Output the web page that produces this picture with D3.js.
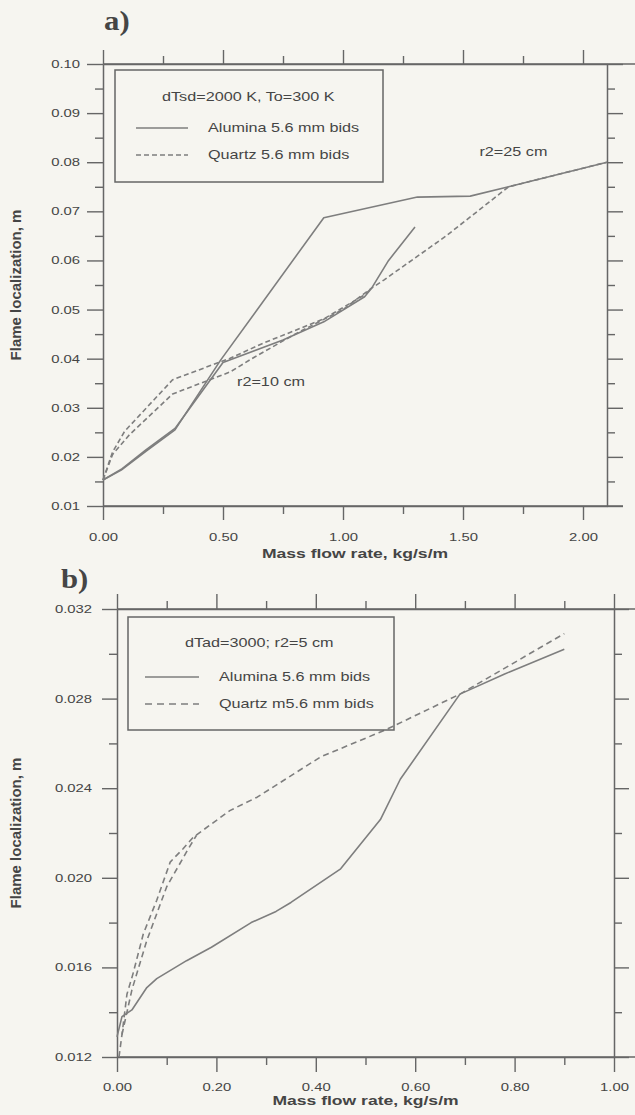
<!DOCTYPE html>
<html><head><meta charset="utf-8">
<script src="https://cdn.jsdelivr.net/npm/d3@7"></script>
<style>
body{margin:0;background:#f6f5f0;}
svg{display:block;}
text{font-family:"Liberation Sans",Arial,sans-serif;fill:#454545;}
</style></head><body>
<svg id="c" width="635" height="1115"></svg>
<script>
// ---------- Chart a data ----------
const aXTicks = [0, 0.5, 1.0, 1.5, 2.0];
const aXMinor = [0.25, 0.75, 1.25, 1.75];
const aYTicks = [0.01, 0.02, 0.03, 0.04, 0.05, 0.06, 0.07, 0.08, 0.09, 0.10];
const aYMinor = [0.015, 0.025, 0.035, 0.045, 0.055, 0.065, 0.075, 0.085, 0.095];
const aAlumina25 = [[0,0.0153],[0.076,0.0173],[0.18,0.0212],[0.30,0.0255],[0.49,0.0397],[0.92,0.0687],[1.31,0.0729],[1.53,0.0731],[1.69,0.0750],[2.10,0.0800]];
const aAlumina10 = [[0,0.0153],[0.08,0.0176],[0.18,0.0215],[0.30,0.0258],[0.50,0.0392],[0.75,0.0438],[0.92,0.0475],[1.09,0.0526],[1.12,0.0544],[1.19,0.0600],[1.30,0.0668]];
const aQuartz10 = [[0,0.0153],[0.04,0.0210],[0.09,0.0252],[0.29,0.0357],[0.53,0.0401],[0.67,0.0432],[0.92,0.0481],[1.09,0.0530],[1.12,0.0544]];
const aQuartz25 = [[0,0.0153],[0.04,0.0205],[0.11,0.0245],[0.29,0.0328],[0.53,0.0373],[0.62,0.0400],[0.80,0.0450],[1.00,0.0500],[1.12,0.0544],[1.17,0.0560],[1.43,0.0650],[1.69,0.0750],[2.10,0.0800]];
const aLegendTitle = "dTsd=2000 K, To=300 K";
const aLegendNames = ["Alumina 5.6 mm bids", "Quartz 5.6 mm bids"];
const aNotes = [{x:1.71, y:0.0821, t:"r2=25 cm"}, {x:0.70, y:0.0353, t:"r2=10 cm"}];

// ---------- Chart b data ----------
const bXTicks = [0, 0.2, 0.4, 0.6, 0.8, 1.0];
const bXMinor = [0.1, 0.3, 0.5, 0.7, 0.9];
const bYTicks = [0.012, 0.016, 0.020, 0.024, 0.028, 0.032];
const bYMinor = [0.014, 0.018, 0.022, 0.026, 0.030];
const bAlumina = [[0,0.0129],[0.01,0.0138],[0.03,0.0141],[0.06,0.0151],[0.08,0.0155],[0.14,0.0163],[0.19,0.0169],[0.27,0.0180],[0.32,0.0185],[0.35,0.0189],[0.45,0.0204],[0.53,0.0226],[0.57,0.0244],[0.69,0.0282],[0.78,0.0291],[0.90,0.0302]];
const bQuartz = [[0.004,0.0120],[0.01,0.0130],[0.02,0.0148],[0.032,0.0157],[0.053,0.0175],[0.08,0.0190],[0.107,0.0207],[0.133,0.0213],[0.153,0.0218],[0.227,0.0230],[0.282,0.0236],[0.41,0.0254],[0.54,0.0266],[0.69,0.0282],[0.90,0.0309]];
const bQuartz2 = [[0.01,0.0130],[0.03,0.0150],[0.06,0.0172],[0.10,0.0196],[0.141,0.0212],[0.16,0.0219]];
const bLegendTitle = "dTad=3000; r2=5 cm";
const bLegendNames = ["Alumina 5.6 mm bids", "Quartz m5.6 mm bids"];

const xTitle = ["Mass flow rate,  kg/s/m", "Mass flow rate, kg/s/m"];
const yTitle = "Flame localization, m";

// ---------- drawing ----------
const SX = 1.35;
const AX = "#666", LN = "#7e7e7e";
const svg = d3.select("#c");

function stxt(g, x, y, s, size, opt = {}) {
  return g.append("text")
    .attr("transform", `translate(${x},${y}) scale(${opt.sx || SX},1)`)
    .attr("text-anchor", opt.anchor || "start")
    .style("font-size", size + "px")
    .style("font-weight", opt.bold ? "bold" : "normal")
    .style("font-family", opt.family || null)
    .text(s);
}
function styleAxis(g) {
  g.selectAll("path.domain").attr("stroke", AX).attr("stroke-width", 1.5);
  g.selectAll(".tick line").attr("stroke", AX).attr("stroke-width", 1.4);
  g.selectAll(".tick text").each(function() {
    const t = d3.select(this);
    const x = +t.attr("x") || 0;
    t.attr("x", x / SX).attr("transform", `scale(${SX},1)`)
     .style("font-size", "11px").attr("fill", "#454545");
  });
}

function chart(cfg) {
  const g = svg.append("g");
  const x = d3.scaleLinear().domain(cfg.xd).range([cfg.L, cfg.R]);
  const y = d3.scaleLinear().domain(cfg.yd).range([cfg.B, cfg.T]);

  // extended frame lines (scan look)
  g.append("line").attr("x1", cfg.L).attr("x2", 635).attr("y1", cfg.T).attr("y2", cfg.T).attr("stroke", AX).attr("stroke-width", 1.5);
  g.append("line").attr("x1", cfg.L).attr("x2", cfg.bExt).attr("y1", cfg.B).attr("y2", cfg.B).attr("stroke", AX).attr("stroke-width", 1.5);

  // major axes
  const left = g.append("g").attr("transform", `translate(${cfg.L},0)`)
    .call(d3.axisLeft(y).tickValues(cfg.yt).tickSize(cfg.ytl).tickSizeOuter(0).tickPadding(cfg.ypad).tickFormat(d3.format(cfg.yf)));
  styleAxis(left);
  const right = g.append("g").attr("transform", `translate(${cfg.R},0)`)
    .call(d3.axisRight(y).tickValues(cfg.yt).tickSize(cfg.ytl).tickSizeOuter(0).tickFormat(""));
  styleAxis(right);
  const bottom = g.append("g").attr("transform", `translate(0,${cfg.B})`)
    .call(d3.axisBottom(x).tickValues(cfg.xt).tickSize(cfg.xtl).tickSizeOuter(0).tickPadding(cfg.xpad).tickFormat(d3.format(".2f")));
  styleAxis(bottom);
  const top = g.append("g").attr("transform", `translate(0,${cfg.T})`)
    .call(d3.axisTop(x).tickValues(cfg.xt).tickSize(cfg.xtl).tickSizeOuter(0).tickFormat(""));
  styleAxis(top);
  // minor ticks
  [[d3.axisLeft(y).tickValues(cfg.ym), `translate(${cfg.L},0)`],
   [d3.axisRight(y).tickValues(cfg.ym), `translate(${cfg.R},0)`],
   [d3.axisBottom(x).tickValues(cfg.xm), `translate(0,${cfg.B})`],
   [d3.axisTop(x).tickValues(cfg.xm), `translate(0,${cfg.T})`]].forEach(([ax, tr]) => {
    const m = g.append("g").attr("transform", tr).call(ax.tickSize(8).tickSizeOuter(0).tickFormat(""));
    m.select("path.domain").remove();
    styleAxis(m);
  });

  // series
  const line = d3.line().x(d => x(d[0])).y(d => y(d[1]));
  cfg.series.forEach(s => {
    g.append("path").datum(s.data).attr("d", line).attr("fill", "none")
      .attr("stroke", LN).attr("stroke-width", 1.6)
      .attr("stroke-dasharray", s.dash || null).attr("stroke-linejoin", "round");
  });

  // legend
  const lg = cfg.legend;
  g.append("rect").attr("x", lg.x).attr("y", lg.y).attr("width", lg.w).attr("height", lg.h)
    .attr("fill", "none").attr("stroke", AX).attr("stroke-width", 1.5);
  stxt(g, lg.tx, lg.ty, lg.title, 12);
  lg.names.forEach((n, i) => {
    const yy = lg.ry[i];
    g.append("line").attr("x1", lg.sx1).attr("x2", lg.sx2).attr("y1", yy).attr("y2", yy)
      .attr("stroke", LN).attr("stroke-width", 1.6).attr("stroke-dasharray", i ? cfg.dash : null);
    stxt(g, lg.nx, yy + 4, n, 12);
  });

  (cfg.notes || []).forEach(n => stxt(g, x(n.x), y(n.y) + 4, n.t, 12, {anchor: "middle"}));

  // titles
  stxt(g, (cfg.L + cfg.R) / 2, cfg.xTitleY, cfg.xTitle, 13, {anchor: "middle", bold: true});
  g.append("text")
    .attr("transform", `translate(21,${(cfg.T + cfg.B) / 2}) rotate(-90)`)
    .attr("text-anchor", "middle").style("font-size", "15px").style("font-weight", "bold")
    .text(yTitle);
  stxt(g, cfg.lab.x, cfg.lab.y, cfg.lab.t, 28, {family: "'Liberation Serif','Times New Roman',serif", bold: true, sx: 1.1});
}

chart({
  xd: [0, 2.1], yd: [0.01, 0.10], L: 103, R: 607, T: 64, B: 506, bExt: 623,
  xt: aXTicks, xm: aXMinor, yt: aYTicks, ym: aYMinor, yf: ".2f",
  ytl: 16, ypad: 7, xtl: 14, xpad: 13, dash: "5,3",
  series: [
    {data: aAlumina25}, {data: aAlumina10},
    {data: aQuartz10, dash: "5,3"}, {data: aQuartz25, dash: "5,3"}
  ],
  legend: {x: 115, y: 70, w: 268, h: 112, tx: 162, ty: 101, title: aLegendTitle,
    names: aLegendNames, ry: [128, 155], sx1: 136, sx2: 188, nx: 208},
  notes: aNotes, xTitle: xTitle[0], xTitleY: 558,
  lab: {x: 104, y: 30, t: "a)"}
});

chart({
  xd: [0, 1.0], yd: [0.012, 0.032], L: 117, R: 614, T: 609, B: 1057, bExt: 635,
  xt: bXTicks, xm: bXMinor, yt: bYTicks, ym: bYMinor, yf: ".3f",
  ytl: 15, ypad: 10, xtl: 15, xpad: 11, dash: "7,5",
  series: [
    {data: bAlumina}, {data: bQuartz, dash: "6,4"}, {data: bQuartz2, dash: "6,4"}
  ],
  legend: {x: 128, y: 617, w: 266, h: 113, tx: 185, ty: 647, title: bLegendTitle,
    names: bLegendNames, ry: [677, 704], sx1: 145, sx2: 199, nx: 219},
  xTitle: xTitle[1], xTitleY: 1105,
  lab: {x: 61, y: 588, t: "b)"}
});
</script>
</body></html>
